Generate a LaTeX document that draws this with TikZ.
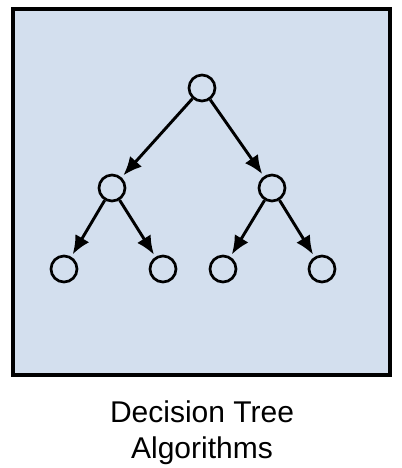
\documentclass[tikz,border=0pt]{standalone}
\usepackage{fontspec}
\setmainfont{Liberation Sans}
\usepackage{xcolor}
\usetikzlibrary{arrows.meta,positioning}

\definecolor{panelblue}{HTML}{D3DFEE}

\begin{document}
\begin{tikzpicture}[x=0.75pt,y=-0.75pt]
                \tikzstyle{vertex} = [draw, circle, line width=2pt, minimum size=19.5pt, inner sep=0pt]
                \tikzstyle{branch} = [-{Latex[length=14pt,width=12pt]}, line width=2.2pt, shorten >=2pt]
                \useasboundingbox (0,0) rectangle (402,468);
                \draw [line width=2.4pt, fill=panelblue] (13,9) rectangle (390,375);

                \node [vertex] (root) at (202,88) {};
                \node [vertex, on grid, below left = 75pt and 67.5pt of root] (left) {};
                \node [vertex, on grid, below right = 75pt and 52.5pt of root] (right) {};
                \node [vertex, on grid, below left = 60.75pt and 36pt of left] (ll) {};
                \node [vertex, on grid, below right = 60.75pt and 38.25pt of left] (lr) {};
                \node [vertex, on grid, below left = 60.75pt and 36.75pt of right] (rl) {};
                \node [vertex, on grid, below right = 60.75pt and 37.5pt of right] (rr) {};

                \node [align=center, font=\fontsize{22.5pt}{27pt}\selectfont] (caption) at (202,433) {Decision Tree\\Algorithms};

                \draw [branch] (root) -- (left);
                \draw [branch] (root) -- (right);
                \draw [branch] (left) -- (ll);
                \draw [branch] (left) -- (lr);
                \draw [branch] (right) -- (rl);
                \draw [branch] (right) -- (rr);
\end{tikzpicture}
\end{document}
